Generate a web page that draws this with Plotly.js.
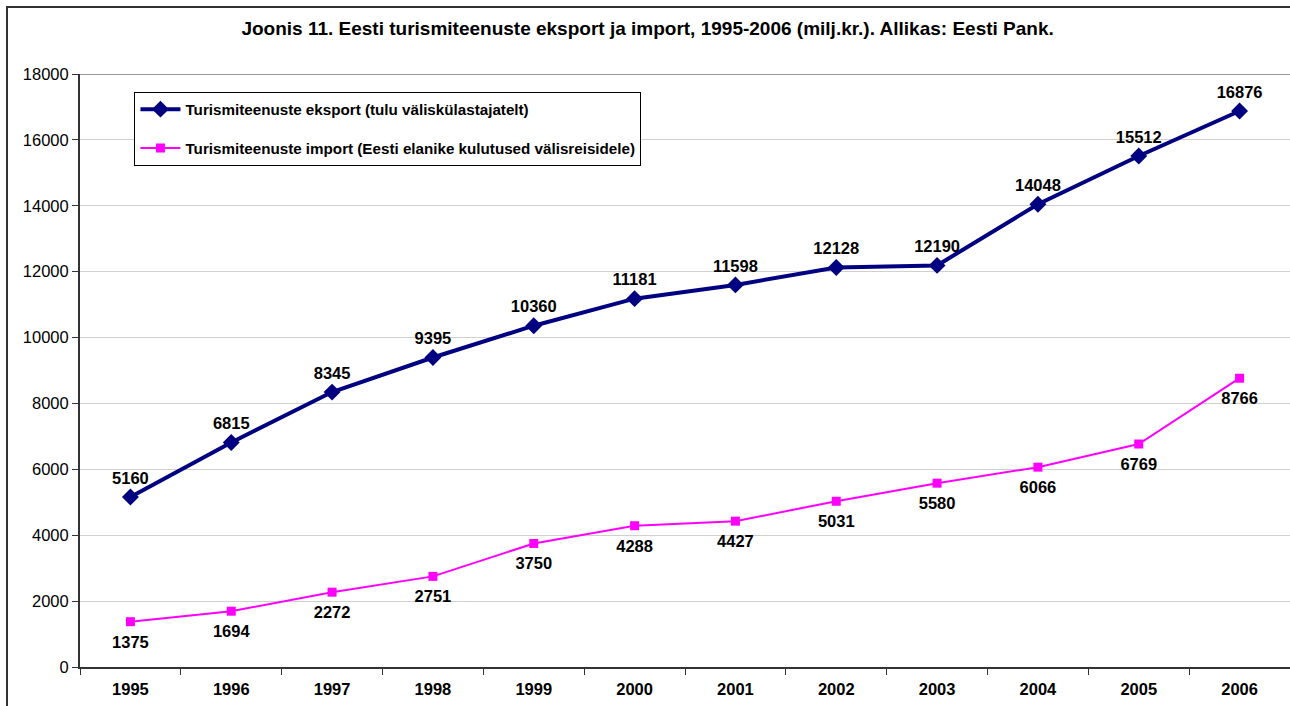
<!DOCTYPE html>
<html><head><meta charset="utf-8">
<script src="https://cdn.plot.ly/plotly-3.0.1.min.js"></script>
<style>
html,body{margin:0;padding:0;overflow:hidden;background:#fff;}
#frame{position:absolute;left:6px;top:6px;width:1400px;height:800px;border-left:2px solid #333;border-top:2px solid #333;pointer-events:none;z-index:5;}
#chart{position:absolute;left:0;top:0;width:1290px;height:706px;}
</style></head>
<body>
<div id="chart"></div>
<div id="frame"></div>
<script>
const years = ['1995','1996','1997','1998','1999','2000','2001','2002','2003','2004','2005','2006'];
const eksport = [5160,6815,8345,9395,10360,11181,11598,12128,12190,14048,15512,16876];
const importVals = [1375,1694,2272,2751,3750,4288,4427,5031,5580,6066,6769,8766];
const yTicks = [0,2000,4000,6000,8000,10000,12000,14000,16000,18000];

const labelFont = {family:'Arial, Liberation Sans, sans-serif', size:16.5, color:'#000', weight:'bold'};

const traces = [
 {x:years, y:eksport, type:'scatter', mode:'lines+markers+text',
  name:'Turismiteenuste eksport (tulu väliskülastajatelt)', legendgroup:'a',
  line:{color:'#000080', width:4}, marker:{symbol:'diamond', size:13, color:'#000080'},
  text:eksport.map(String), textposition:'top center', textfont:labelFont, cliponaxis:false},
 {x:years, y:importVals, type:'scatter', mode:'lines+markers',
  name:'Turismiteenuste import (Eesti elanike kulutused välisreisidele)', legendgroup:'b',
  line:{color:'#FF00FF', width:2}, marker:{symbol:'square', size:9, color:'#FF00FF'}, cliponaxis:false},
 {x:years, y:importVals, type:'scatter', mode:'markers+text', showlegend:false, legendgroup:'b',
  marker:{symbol:'square', size:20, color:'rgba(0,0,0,0)'},
  text:importVals.map(String), textposition:'bottom center', textfont:labelFont, cliponaxis:false}
];

const layout = {
 width:1290, height:706,
 margin:{l:80, r:0, t:74, b:39},
 paper_bgcolor:'#fff', plot_bgcolor:'#fff',
 font:{family:'Arial, Liberation Sans, sans-serif', color:'#000'},
 title:{text:'<b>Joonis 11. Eesti turismiteenuste eksport ja import, 1995-2006 (milj.kr.). Allikas: Eesti Pank.</b>',
  x:0.502, xref:'container', y:0.96, yref:'container', yanchor:'middle', font:{size:19, color:'#000'}},
 xaxis:{type:'category', range:[-0.5,11.5], tickvals:years, ticktext:years, tickson:'boundaries',
  ticks:'outside', ticklen:6, tickcolor:'#333', showline:true, linecolor:'#333', linewidth:2,
  showgrid:false, tickfont:{size:16.5, weight:'bold'}, ticklabelstandoff:6, fixedrange:true},
 yaxis:{range:[0,18000], tickvals:yTicks, ticktext:yTicks.map(String), ticks:'outside', ticklen:6,
  tickcolor:'#333', showline:true, linecolor:'#333', linewidth:2, showgrid:true, gridcolor:'#d0d0d0', gridwidth:1,
  zeroline:false, tickfont:{size:16.5}, fixedrange:true},
 legend:{x:0.045, y:0.97, xanchor:'left', yanchor:'top', bgcolor:'#fff', bordercolor:'#000', borderwidth:1,
  font:{size:15.2, weight:'bold'}, traceorder:'grouped', tracegroupgap:16, itemwidth:40},
 shapes:[{type:'line', xref:'paper', yref:'y', x0:0, x1:1, y0:18000, y1:18000, line:{color:'#999', width:2}}],
 showlegend:true
};
Plotly.newPlot('chart', traces, layout, {displayModeBar:false, staticPlot:true});
</script>
</body></html>
